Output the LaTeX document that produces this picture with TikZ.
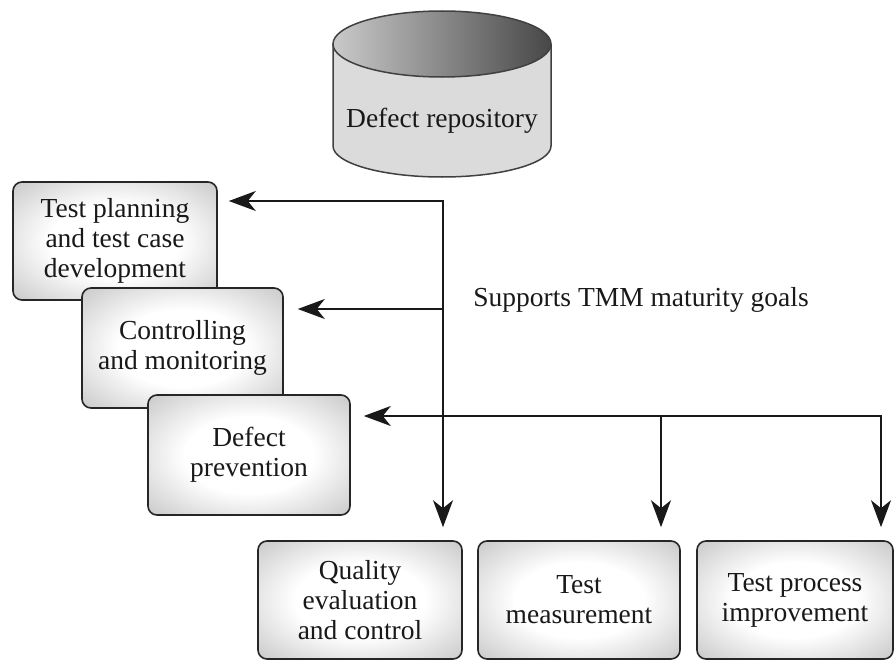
\documentclass[tikz,border=0pt]{standalone}
\usepackage{fontspec}
\setmainfont{Liberation Serif}
\usetikzlibrary{arrows.meta}
% soft white-centred glow used to fill the process boxes
\pgfdeclareradialshading{boxglow}{\pgfpoint{0bp}{0bp}}{color(0bp)=(white); color(16bp)=(white); color(38bp)=(gray!48); color(50bp)=(gray!70)}

\begin{document}
\begin{tikzpicture}[x=1pt,y=-1pt,
  card/.style={draw=black!85, line width=1.6pt, rounded corners=9pt, shading=boxglow,
    align=center, font=\fontsize{27.5}{30}\selectfont, text=black!90, inner sep=0pt},
  link/.style={line width=2pt, draw=black!90, line cap=rect,
    -{Stealth[length=27pt,width=20pt,inset=8pt]}},
  lbl/.style={font=\fontsize{27.5}{30}\selectfont, text=black!90}
]
\useasboundingbox (0,0) rectangle (896,661);

% defect repository drawn as a cylinder
\path[draw=black!75, line width=1.5pt, fill=gray!28]
  (333,44) -- (333,146) arc[start angle=180, end angle=0, x radius=109, y radius=31] -- (551,44);
\draw[draw=black!75, line width=1.5pt, left color=gray!42, right color=black!72]
  (442,44) ellipse [x radius=109, y radius=33];
\node[lbl] (repo) at (442,121) {Defect repository};

% stacked activity boxes
\node[card, minimum width=204pt, minimum height=118pt] (plan) at (115,241)
  {Test planning\\and test case\\development};
\node[card, minimum width=201pt, minimum height=120pt] (ctrl) at (182.5,348)
  {Controlling\\and monitoring};
\node[card, minimum width=202pt, minimum height=120pt] (prev) at (249,455)
  {Defect\\prevention};

% bottom row of boxes
\node[card, minimum width=204pt, minimum height=118pt] (qual) at (360,600)
  {Quality\\evaluation\\and control};
\node[card, minimum width=202pt, minimum height=118pt] (meas) at (579,600)
  {Test\\measurement};
\node[card, minimum width=196pt, minimum height=118pt] (impr) at (795,600)
  {Test process\\improvement};

\node[lbl] (goals) at (641,300) {Supports TMM maturity goals};

% junction points of the connector tree
\coordinate (jtop) at (443,201);
\coordinate (jmid) at (443,309);
\coordinate (jright) at (881,416);
\coordinate (jfork) at (661,416);

\draw[link, shorten >=11pt] (jtop) -- (jtop -| plan.east);
\draw[link, shorten >=14pt] (jmid) -- (jmid -| ctrl.east);
\draw[link, shorten >=13pt] (jright) -- (jright -| prev.east);
\draw[link, shorten >=13pt] (jtop) -- (jtop |- qual.north);
\draw[link, shorten >=13pt] (jfork) -- (jfork |- meas.north);
\draw[link, shorten >=13pt] (jright) -- (jright |- impr.north);
\end{tikzpicture}
\end{document}
